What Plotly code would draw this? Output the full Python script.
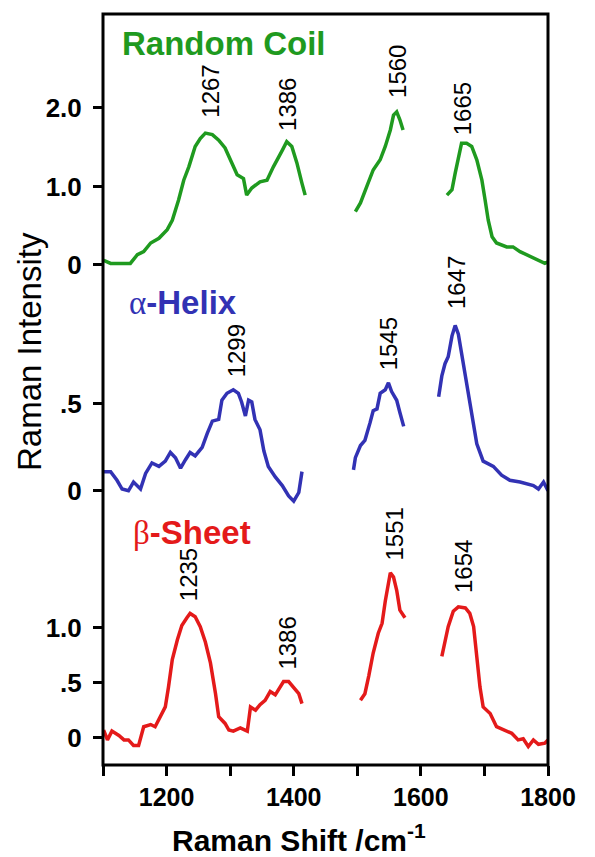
import plotly.graph_objects as go

# ---------------- data ----------------
# Random coil (green), three spectral windows
rc_x1 = [1101, 1112, 1127, 1143, 1154, 1164, 1175, 1188, 1201, 1209, 1219, 1227, 1235, 1245, 1253, 1261,
         1272, 1282, 1292, 1303, 1311, 1321, 1326, 1334, 1347, 1358, 1368, 1382, 1389, 1397, 1405, 1413, 1418]
rc_y1 = [0.06, 0.02, 0.02, 0.02, 0.13, 0.17, 0.28, 0.34, 0.45, 0.57, 0.83, 1.08, 1.25, 1.51, 1.61, 1.68,
         1.66, 1.59, 1.49, 1.30, 1.15, 1.10, 0.89, 0.98, 1.06, 1.08, 1.25, 1.46, 1.57, 1.51, 1.30, 1.04, 0.89]
rc_x2 = [1497, 1505, 1515, 1525, 1536, 1544, 1552, 1557, 1562, 1567, 1572]
rc_y2 = [0.68, 0.79, 1.00, 1.21, 1.34, 1.51, 1.72, 1.91, 1.95, 1.85, 1.72]
rc_x3 = [1641, 1649, 1654, 1659, 1664, 1672, 1680, 1688, 1696, 1701, 1706, 1712, 1719, 1735, 1745, 1756,
         1766, 1782, 1795, 1800]
rc_y3 = [0.89, 0.96, 1.17, 1.38, 1.55, 1.55, 1.51, 1.34, 1.08, 0.83, 0.57, 0.36, 0.28, 0.23, 0.23, 0.17,
         0.13, 0.06, 0.02, 0.04]

# alpha-helix (blue)
ah_x1 = [1101, 1112, 1122, 1130, 1140, 1148, 1159, 1167, 1177, 1188, 1198, 1206, 1214, 1222, 1230, 1237,
         1245, 1256, 1264, 1272, 1282, 1287, 1295, 1305, 1313, 1318, 1324, 1329, 1334, 1339, 1347, 1353,
         1360, 1371, 1382, 1392, 1400, 1408, 1413]
ah_y1 = [0.11, 0.11, 0.06, 0.01, 0.00, 0.05, 0.01, 0.10, 0.16, 0.14, 0.17, 0.22, 0.19, 0.13, 0.18, 0.22,
         0.20, 0.25, 0.33, 0.40, 0.41, 0.52, 0.56, 0.58, 0.56, 0.51, 0.43, 0.52, 0.51, 0.41, 0.35, 0.23,
         0.14, 0.08, 0.03, -0.03, -0.06, -0.01, 0.11]
ah_x2 = [1494, 1497, 1505, 1512, 1520, 1525, 1531, 1536, 1544, 1549, 1554, 1562, 1567, 1573]
ah_y2 = [0.12, 0.19, 0.26, 0.29, 0.39, 0.46, 0.47, 0.56, 0.58, 0.62, 0.57, 0.52, 0.45, 0.37]
ah_x3 = [1628, 1633, 1638, 1643, 1649, 1654, 1659, 1664, 1672, 1680, 1688, 1698, 1714, 1727, 1740, 1756,
         1766, 1777, 1785, 1793, 1800]
ah_y3 = [0.54, 0.66, 0.73, 0.77, 0.89, 0.95, 0.90, 0.79, 0.64, 0.46, 0.27, 0.17, 0.14, 0.09, 0.06, 0.05,
         0.04, 0.03, 0.01, 0.05, 0.00]

# beta-sheet (red)
bs_x1 = [1101, 1107, 1114, 1125, 1133, 1140, 1148, 1156, 1164, 1175, 1182, 1190, 1198, 1203, 1209, 1217,
         1224, 1232, 1237, 1245, 1253, 1261, 1269, 1277, 1282, 1292, 1298, 1305, 1316, 1327, 1332, 1340,
         1347, 1355, 1363, 1371, 1379, 1384, 1392, 1400, 1408, 1413]
bs_y1 = [0.07, -0.02, 0.06, 0.02, -0.02, -0.02, -0.07, -0.07, 0.10, 0.12, 0.10, 0.19, 0.28, 0.46, 0.71,
         0.89, 1.02, 1.09, 1.13, 1.10, 1.01, 0.87, 0.68, 0.40, 0.19, 0.13, 0.07, 0.06, 0.09, 0.06, 0.28,
         0.25, 0.30, 0.34, 0.42, 0.39, 0.46, 0.51, 0.51, 0.45, 0.40, 0.31]
bs_x2 = [1505, 1512, 1518, 1525, 1533, 1539, 1544, 1549, 1552, 1557, 1562, 1567, 1575]
bs_y2 = [0.34, 0.40, 0.56, 0.77, 0.95, 1.04, 1.24, 1.43, 1.50, 1.46, 1.34, 1.16, 1.09]
bs_x3 = [1633, 1638, 1643, 1651, 1659, 1670, 1677, 1683, 1688, 1693, 1698, 1709, 1719, 1730, 1743, 1753,
         1761, 1769, 1777, 1785, 1795, 1800]
bs_y3 = [0.74, 0.86, 1.01, 1.15, 1.19, 1.18, 1.13, 1.01, 0.71, 0.46, 0.28, 0.22, 0.10, 0.07, 0.04, -0.02,
         -0.01, -0.08, -0.02, -0.06, -0.05, -0.02]

# peak labels: text, x position, bottom y position (in each panel's units)
rc_peaks = ["1267", "1386", "1560", "1665"]
rc_peak_x = [1269, 1390, 1563, 1666]
rc_peak_y = [1.85, 1.68, 2.10, 1.63]
ah_peaks = ["1299", "1545", "1647"]
ah_peak_x = [1310, 1549, 1657]
ah_peak_y = [0.64, 0.68, 1.03]
bs_peaks = ["1235", "1386", "1551", "1654"]
bs_peak_x = [1234, 1390, 1558, 1666]
bs_peak_y = [1.22, 0.60, 1.59, 1.30]

x_ticks = [1200, 1400, 1600, 1800]
x_ticktext = ["1200", "1400", "1600", "1800"]
rc_ticks = [0, 1.0, 2.0]
rc_ticktext = ["0", "1.0", "2.0"]
ah_ticks = [0, 0.5]
ah_ticktext = ["0", ".5"]
bs_ticks = [0, 0.5, 1.0]
bs_ticktext = ["0", ".5", "1.0"]

GREEN = "#1f9a1f"
BLUE = "#3232b4"
RED = "#e41a1a"
FONT = "Liberation Sans, Arial, sans-serif"

fig = go.Figure()

def add_series(xs, ys, color, yax):
    for x, y in zip(xs, ys):
        fig.add_trace(go.Scatter(x=x, y=y, mode="lines", yaxis=yax, xaxis="x",
                                 line=dict(color=color, width=3.5), showlegend=False,
                                 hoverinfo="skip"))

add_series([rc_x1, rc_x2, rc_x3], [rc_y1, rc_y2, rc_y3], GREEN, "y3")
add_series([ah_x1, ah_x2, ah_x3], [ah_y1, ah_y2, ah_y3], BLUE, "y2")
add_series([bs_x1, bs_x2, bs_x3], [bs_y1, bs_y2, bs_y3], RED, "y")

ann = []
for txts, xs, ys, yref in [(rc_peaks, rc_peak_x, rc_peak_y, "y3"),
                           (ah_peaks, ah_peak_x, ah_peak_y, "y2"),
                           (bs_peaks, bs_peak_x, bs_peak_y, "y")]:
    for t, x, y in zip(txts, xs, ys):
        ann.append(dict(text=t, x=x, y=y, xref="x", yref=yref, textangle=-90,
                        xanchor="center", yanchor="bottom", showarrow=False,
                        font=dict(family=FONT, size=24, color="black")))

ann.append(dict(text="<b>Random Coil</b>", x=0.038, y=0.961, xref="paper", yref="paper",
                xanchor="left", yanchor="middle", showarrow=False,
                font=dict(family=FONT, size=33, color=GREEN)))
ann.append(dict(text="<span style='font-family:Liberation Serif'>α</span><b>-Helix</b>",
                x=0.054, y=0.6165, xref="paper", yref="paper",
                xanchor="left", yanchor="middle", showarrow=False,
                font=dict(family=FONT, size=33, color=BLUE)))
ann.append(dict(text="<span style='font-family:Liberation Serif'>β</span><b>-Sheet</b>",
                x=0.063, y=0.310, xref="paper", yref="paper",
                xanchor="left", yanchor="middle", showarrow=False,
                font=dict(family=FONT, size=33, color=RED)))
ann.append(dict(text="<b>Raman Shift /cm<sup>-1</sup></b>", x=0.44, y=-0.097,
                xref="paper", yref="paper", xanchor="center", yanchor="middle",
                showarrow=False, font=dict(family=FONT, size=30, color="black")))
ann.append(dict(text="Raman Intensity", x=-0.164, y=0.55, xref="paper", yref="paper",
                xanchor="center", yanchor="middle", textangle=-90, showarrow=False,
                font=dict(family=FONT, size=33, color="black")))

tickfont = dict(family=FONT, size=26, color="black", weight="bold")
yax_common = dict(showgrid=False, zeroline=False, showline=False, ticks="outside",
                  ticklen=9, tickwidth=3, tickcolor="black", anchor="x",
                  ticklabelstandoff=6, tickfont=tickfont, tickmode="array")

fig.update_layout(
    width=595, height=857,
    margin=dict(l=103, r=47, t=14, b=92),
    paper_bgcolor="white", plot_bgcolor="white",
    xaxis=dict(range=[1100, 1800], showgrid=False, zeroline=False, showline=False,
               ticks="outside", ticklen=10, tickwidth=3, tickcolor="black",
               tickmode="array", tickvals=x_ticks, ticktext=x_ticktext,
               minor=dict(ticks="outside", ticklen=10, tickwidth=3, tickcolor="black",
                          tick0=1100, dtick=100, showgrid=False),
               tickfont=dict(family=FONT, size=25, color="black", weight="bold"),
               anchor="y"),
    yaxis=dict(domain=[0, 0.3262], range=[-0.248, 1.979], tickvals=bs_ticks,
               ticktext=bs_ticktext, **yax_common),
    yaxis2=dict(domain=[0.3262, 0.6192], range=[-0.168, 1.096], tickvals=ah_ticks,
                ticktext=ah_ticktext, **yax_common),
    yaxis3=dict(domain=[0.6192, 1.0], range=[-0.446, 3.197], tickvals=rc_ticks,
                ticktext=rc_ticktext, **yax_common),
    annotations=ann,
    shapes=[dict(type="rect", xref="paper", yref="paper", x0=0, x1=1, y0=0, y1=1,
                 line=dict(color="black", width=3), fillcolor="rgba(0,0,0,0)", layer="above")],
)

fig.write_html("out.html", config={"displayModeBar": False},
               post_script="document.body.style.margin='0';")
